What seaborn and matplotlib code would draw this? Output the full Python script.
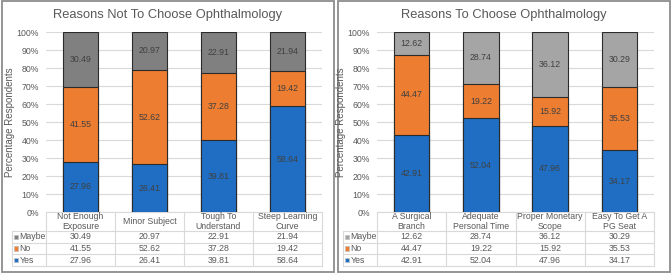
import numpy as np
import pandas as pd
import matplotlib
matplotlib.use("Agg")
import matplotlib.pyplot as plt
import seaborn as sns
from matplotlib.patches import Rectangle

# ---------------- data ----------------
left_title = "Reasons Not To Choose Ophthalmology"
left_categories = ["Not Enough\nExposure", "Minor Subject", "Tough To\nUnderstand", "Steep Learning\nCurve"]
left_yes = [27.96, 26.41, 39.81, 58.64]
left_no = [41.55, 52.62, 37.28, 19.42]
left_maybe = [30.49, 20.97, 22.91, 21.94]

right_title = "Reasons To Choose Ophthalmology"
right_categories = ["A Surgical\nBranch", "Adequate\nPersonal Time", "Proper Monetary\nScope", "Easy To Get A\nPG Seat"]
right_yes = [42.91, 52.04, 47.96, 34.17]
right_no = [44.47, 19.22, 15.92, 35.53]
right_maybe = [12.62, 28.74, 36.12, 30.29]

series_names = ["Maybe", "No", "Yes"]
y_ticks = [0, 10, 20, 30, 40, 50, 60, 70, 80, 90, 100]
y_label = "Percentage Respondents"

# ---------------- style ----------------
sns.set_theme(style="white")
plt.rcParams["font.family"] = ["Liberation Sans", "DejaVu Sans"]

BLUE = "#1F6EC3"
ORANGE = "#ED7D31"
GRAY_L = "#808080"
GRAY_R = "#A5A5A5"
TXT = "#595959"
GRID = "#D9D9D9"
EDGE = "#2B2B2B"

W, H = 672, 274
fig = plt.figure(figsize=(W / 100, H / 100), dpi=100)


def fr(x0, y0, x1, y1):
    return [x0 / W, 1 - y1 / H, (x1 - x0) / W, (y1 - y0) / H]


ov = fig.add_axes([0, 0, 1, 1], zorder=0)
ov.set_xlim(0, W)
ov.set_ylim(H, 0)
ov.axis("off")

AX_TOP, AX_BOT = 32, 212
ROW_EDGES = [212, 231, 242.7, 254.3, 266]


def draw_panel(p0, p1, ax0, ax1, tab0, ylab_x, title, cats, yes, no, maybe, maybe_color):
    # panel border
    ov.add_patch(Rectangle((p0, 1), p1 - p0, 271, facecolor="white",
                           edgecolor="#8C8C8C", lw=1.3, zorder=0))
    ax = fig.add_axes(fr(ax0, AX_TOP, ax1, AX_BOT), zorder=2)
    ax.patch.set_alpha(0)
    df = pd.DataFrame({"cat": cats, "Yes": yes, "No": no, "Maybe": maybe})
    df["yes_no"] = df["Yes"] + df["No"]
    df["total"] = df["yes_no"] + df["Maybe"]
    for col, colr in [("total", maybe_color), ("yes_no", ORANGE), ("Yes", BLUE)]:
        sns.barplot(data=df, x="cat", y=col, order=cats, color=colr, saturation=1,
                    width=0.51, edgecolor=EDGE, linewidth=0.8, errorbar=None, ax=ax)
    ax.set_xlim(-0.5, len(cats) - 0.5)
    ax.set_ylim(0, 100)
    ax.set_yticks(y_ticks)
    ax.set_yticklabels([f"{t}%" for t in y_ticks], fontsize=6.3, color=TXT)
    ax.set_xticks([])
    ax.set_xlabel("")
    ax.set_ylabel("")
    ax.tick_params(axis="y", length=0, pad=5)
    ax.yaxis.grid(True, color=GRID, lw=0.8)
    ax.set_axisbelow(True)
    for s in ax.spines.values():
        s.set_visible(False)
    # segment labels
    for i in range(len(cats)):
        ax.text(i, yes[i] / 2, f"{yes[i]:.2f}", ha="center", va="center", fontsize=6.3, color="#404040")
        ax.text(i, yes[i] + no[i] / 2, f"{no[i]:.2f}", ha="center", va="center", fontsize=6.3, color="#404040")
        ax.text(i, yes[i] + no[i] + maybe[i] / 2, f"{maybe[i]:.2f}", ha="center", va="center", fontsize=6.3, color="#404040")

    # title & y label
    ov.text((p0 + p1) / 2, 15, title, ha="center", va="center", fontsize=9.3, color=TXT)
    ov.text(ylab_x, 122, y_label, ha="center", va="center", rotation=90, fontsize=7, color=TXT)

    # data table
    n = len(cats)
    colw = (ax1 - ax0) / n
    xs = [ax0 + k * colw for k in range(n + 1)]
    kw = dict(color=GRID, lw=0.8, zorder=1)
    ov.plot([ax0, ax1], [ROW_EDGES[0]] * 2, **kw)
    for y in ROW_EDGES[1:]:
        ov.plot([tab0, ax1], [y, y], **kw)
    for x in xs:
        ov.plot([x, x], [ROW_EDGES[0], ROW_EDGES[-1]], **kw)
    ov.plot([tab0, tab0], [ROW_EDGES[1], ROW_EDGES[-1]], **kw)
    for k, c in enumerate(cats):
        ov.text((xs[k] + xs[k + 1]) / 2, (ROW_EDGES[0] + ROW_EDGES[1]) / 2, c, ha="center", va="center",
                fontsize=6.3, color=TXT, linespacing=1.1)
    rows = {"Maybe": (maybe, maybe_color), "No": (no, ORANGE), "Yes": (yes, BLUE)}
    for r, name in enumerate(series_names):
        vals, colr = rows[name]
        yc = (ROW_EDGES[r + 1] + ROW_EDGES[r + 2]) / 2
        ov.add_patch(Rectangle((tab0 + 2, yc - 2.2), 4.4, 4.4, facecolor=colr, edgecolor="#BFBFBF", lw=0.5, zorder=2))
        ov.text(tab0 + 7.5, yc, name, ha="left", va="center", fontsize=6.3, color=TXT)
        for k, v in enumerate(vals):
            ov.text((xs[k] + xs[k + 1]) / 2, yc, f"{v:.2f}", ha="center", va="center", fontsize=6.3, color=TXT)


draw_panel(2, 334, 46, 322, 12, 10, left_title, left_categories, left_yes, left_no, left_maybe, GRAY_L)
draw_panel(338, 670, 377, 654, 343, 341, right_title, right_categories, right_yes, right_no, right_maybe, GRAY_R)

fig.savefig("out.png", dpi=100)
